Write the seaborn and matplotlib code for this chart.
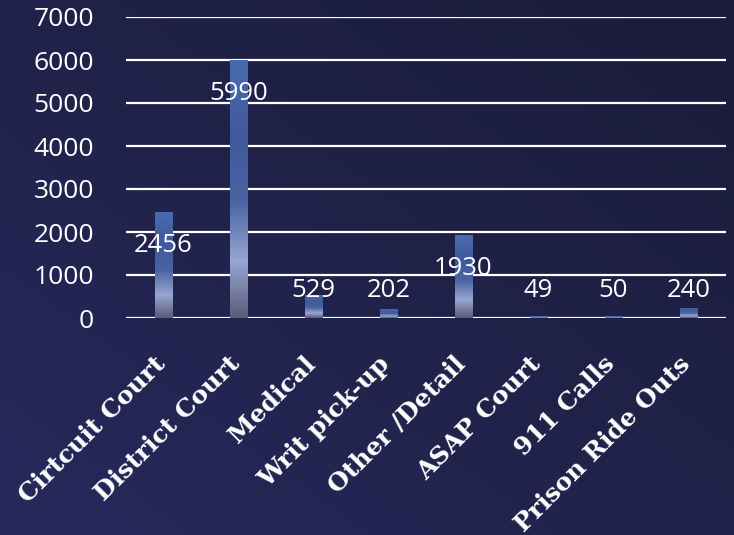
import numpy as np
import pandas as pd
import matplotlib
matplotlib.use("Agg")
import matplotlib.pyplot as plt
from matplotlib.colors import LinearSegmentedColormap
from matplotlib.transforms import ScaledTranslation
import seaborn as sns

# ── data ─────────────────────────────────────────────────
categories = ["Cirtcuit Court", "District Court", "Medical", "Writ pick-up",
              "Other /Detail", "ASAP Court", "911 Calls", "Prison Ride Outs"]
counts = [2456, 5990, 529, 202, 1930, 49, 50, 240]
y_ticks = [0, 1000, 2000, 3000, 4000, 5000, 6000, 7000]

df = pd.DataFrame({"category": categories, "count": counts})

sns.set_theme(style="white")
plt.rcParams["font.family"] = ["Open Sans", "DejaVu Sans"]

fig = plt.figure(figsize=(7.34, 5.35), dpi=100)

# background gradient (lighter navy bottom-left, darker top-right)
bg = fig.add_axes([0, 0, 1, 1], zorder=-10)
yy, xx = np.mgrid[0:1:200j, 0:1:200j]
t = (xx + (1 - yy)) / 2
bg_cmap = LinearSegmentedColormap.from_list("bg", ["#262a5c", "#202249", "#1b1c3b"])
bg.imshow(t, cmap=bg_cmap, extent=[0, 1, 0, 1], aspect="auto", origin="upper")
bg.axis("off")

ax = fig.add_axes([126 / 734, 1 - 318 / 535, 600 / 734, 301 / 535])
ax.set_facecolor("none")

sns.barplot(data=df, x="category", y="count", width=0.24, color="#4a6aae", ax=ax)

ax.set_ylim(0, 7000)
ax.set_xlim(-0.5, len(categories) - 0.5)
ax.set_yticks(y_ticks)
ax.set_yticklabels([str(v) for v in y_ticks], color="white", fontsize=19)
ax.tick_params(axis="y", length=0, pad=23)
ax.tick_params(axis="x", length=0, pad=34)
for s in ax.spines.values():
    s.set_visible(False)
for v in y_ticks:
    ax.axhline(v, color="white", lw=1.6, zorder=0)

# gradient fill for each bar
bar_cmap = LinearSegmentedColormap.from_list(
    "bar", [(0.0, "#5a5c78"), (0.22, "#97a6d2"), (0.45, "#4a64a3"), (0.7, "#3f5a9c"), (1.0, "#4a6ab0")])
grad = np.linspace(0, 1, 256).reshape(-1, 1)
for p in ax.patches:
    x0, w, h = p.get_x(), p.get_width(), p.get_height()
    if h <= 0:
        continue
    im = ax.imshow(grad, cmap=bar_cmap, origin="lower", aspect="auto",
                   extent=[x0, x0 + w, 0, h], zorder=2)
    im.set_clip_path(p)
    p.set_facecolor("none")
    p.set_edgecolor("none")
ax.set_xlim(-0.5, len(categories) - 0.5)
ax.set_ylim(0, 7000)

# value labels
for i, v in enumerate(counts):
    ypos = max(v - 780, 650)
    ax.text(i, ypos, str(v), ha="center", va="center", color="white", fontsize=18.5, zorder=3)

ax.set_xlabel("")
ax.set_ylabel("")
ax.set_xticks(range(len(categories)))
ax.set_xticklabels(categories, rotation=45, ha="right", va="baseline", rotation_mode="anchor",
                   color="white", fontsize=18, fontweight="bold",
                   family=["DejaVu Serif"])
for lbl in ax.get_xticklabels():
    lbl.set_transform(lbl.get_transform() + ScaledTranslation(0.03, 0, fig.dpi_scale_trans))

fig.savefig("out.png", dpi=100, facecolor=fig.get_facecolor())
plt.close("all")
